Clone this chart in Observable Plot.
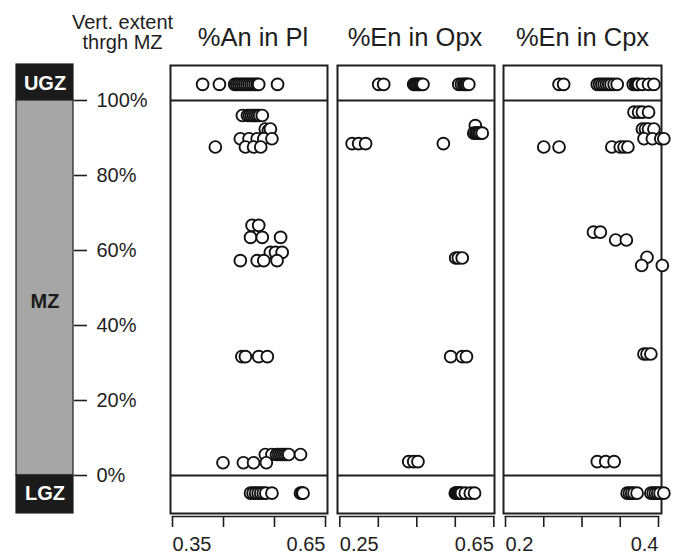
<!DOCTYPE html>
<html><head><meta charset="utf-8">
<script src="https://cdn.jsdelivr.net/npm/d3@7"></script>
<script src="https://cdn.jsdelivr.net/npm/@observablehq/plot@0.6"></script>
<style>
html,body{margin:0;padding:0;background:#fff;}
#chart{position:relative;width:676px;height:554px;overflow:hidden;}
#chart svg{position:absolute;left:0;top:0;}
</style></head><body><div id="chart"></div>
<script>
// ---------- data ----------
const header = "Vert. extent\nthrgh MZ";
const zones = ["UGZ", "MZ", "LGZ"];
const zoneBottom = [100, 0, -10.13];
const zoneTop = [109.6, 100, 0];
const zoneLabelY = [104.5, 46.5, -4.8];
const zoneFill = ["#1b1b1b", "#a6a6a6", "#1b1b1b"];
const zoneTextFill = ["#ffffff", "#1b1b1b", "#ffffff"];
const yTicks = [0, 20, 40, 60, 80, 100];
const yTickLabels = ["0%", "20%", "40%", "60%", "80%", "100%"];

const titles = ["%An in Pl", "%En in Opx", "%En in Cpx"];

// %An in Pl
const plX = [0.409,0.442,0.472,0.476,0.480,0.484,0.488,0.492,0.496,0.500,0.504,0.508,0.512,0.516,0.519,0.556,
  0.487,0.497,0.501,0.505,0.509,0.513,0.517,0.521,0.526,
  0.532,0.538,0.542,
  0.483,0.500,0.516,0.529,0.545,
  0.434,0.493,0.509,0.523,
  0.506,0.519,
  0.503,0.526,0.562,
  0.542,0.552,0.565,
  0.483,0.516,0.529,0.555,
  0.486,0.493,0.519,0.536,
  0.532,0.545,0.554,0.558,0.562,0.566,0.570,0.574,0.578,0.601,
  0.449,0.489,0.509,0.534,
  0.503,0.508,0.513,0.518,0.523,0.528,0.533,0.545,0.601,0.604,0.606];
const plY = [104.3,104.3,104.3,104.3,104.3,104.3,104.3,104.3,104.3,104.3,104.3,104.3,104.3,104.3,104.3,104.3,
  96.0,96.0,96.0,96.0,96.0,96.0,96.0,96.0,96.0,
  92.4,92.0,92.4,
  89.8,89.8,89.8,89.8,89.8,
  87.6,87.6,87.6,87.6,
  66.7,66.7,
  63.5,63.5,63.5,
  59.5,59.5,59.5,
  57.3,57.3,57.3,57.3,
  31.7,31.7,31.7,31.7,
  5.6,5.6,5.6,5.6,5.6,5.6,5.6,5.6,5.6,5.6,
  3.4,3.4,3.4,3.4,
  -4.7,-4.7,-4.7,-4.7,-4.7,-4.7,-4.7,-4.7,-4.7,-4.7,-4.7];
const plTicks = [0.35, 0.45, 0.55, 0.65];
const plTickLabels = ["0.35", "", "", "0.65"];

// %En in Opx
const opxX = [0.351,0.364,0.442,0.446,0.450,0.454,0.458,0.462,0.466,0.559,0.566,0.572,0.576,0.580,0.585,
  0.602,0.598,0.603,0.607,0.611,0.615,0.620,
  0.282,0.299,0.317,0.519,
  0.551,0.558,0.568,
  0.538,0.568,0.579,
  0.429,0.442,0.453,
  0.550,0.553,0.556,0.559,0.562,0.566,0.576,0.589,0.600];
const opxY = [104.3,104.3,104.3,104.3,104.3,104.3,104.3,104.3,104.3,104.3,104.3,104.3,104.3,104.3,104.3,
  93.3,91.3,91.3,91.3,91.3,91.3,91.3,
  88.5,88.5,88.5,88.5,
  58.0,58.0,58.0,
  31.7,31.7,31.7,
  3.7,3.7,3.7,
  -4.7,-4.7,-4.7,-4.7,-4.7,-4.7,-4.7,-4.7,-4.7];
const opxTicks = [0.25, 0.35, 0.45, 0.55, 0.65];
const opxTickLabels = ["0.25", "", "", "", "0.65"];

// %En in Cpx
const cpxX = [0.270,0.276,0.320,0.323,0.326,0.329,0.332,0.335,0.338,0.342,0.346,0.367,0.370,0.372,0.374,0.379,0.387,0.394,
  0.368,0.374,0.379,0.387,
  0.379,0.383,0.387,0.394,
  0.381,0.392,0.403,0.407,
  0.250,0.270,0.339,0.350,0.355,0.360,
  0.315,0.324,
  0.344,0.358,
  0.385,
  0.378,0.405,
  0.381,0.385,0.390,
  0.320,0.331,0.342,
  0.359,0.362,0.365,0.368,0.372,0.390,0.393,0.396,0.399,0.402,0.407];
const cpxY = [104.3,104.3,104.3,104.3,104.3,104.3,104.3,104.3,104.3,104.3,104.3,104.3,104.3,104.3,104.3,104.3,104.3,104.3,
  96.9,96.9,96.9,96.9,
  92.4,92.4,92.4,92.4,
  89.8,89.8,89.8,89.8,
  87.6,87.6,87.6,87.6,87.6,87.6,
  64.9,64.9,
  62.8,62.8,
  58.2,
  56.0,56.0,
  32.4,32.4,32.4,
  3.7,3.7,3.7,
  -4.7,-4.7,-4.7,-4.7,-4.7,-4.7,-4.7,-4.7,-4.7,-4.7,-4.7];
const cpxTicks = [0.2, 0.25, 0.3, 0.35, 0.4];
const cpxTickLabels = ["0.2", "", "", "", "0.4"];

// ---------- layout / style ----------
const W = 676, H = 554;
const FONT = "'Liberation Sans', Arial, Helvetica, sans-serif";
const INK = "#1e1e1e";
const common = {
  width: W, height: H, marginTop: 65, marginBottom: 41,
  style: {background: "transparent", fontFamily: FONT, color: INK, overflow: "visible"}
};
const yScale = {domain: [0, 100], range: [475, 100]};

const chart = document.getElementById("chart");

// strat column + y axis + header
const base = Plot.plot({
  ...common, marginTop: 64, marginLeft: 16, marginRight: W - 73,
  y: yScale,
  marks: [
    Plot.rect(zones, {y1: (d, i) => zoneBottom[i], y2: (d, i) => zoneTop[i],
      fill: (d, i) => zoneFill[i], stroke: INK, strokeWidth: 1.2}),
    Plot.text(zones, {y: (d, i) => zoneLabelY[i], text: d => d, frameAnchor: "middle",
      fill: (d, i) => zoneTextFill[i], fontWeight: "bold", fontSize: 20}),
    Plot.axisY(yTicks, {anchor: "right", tickSize: 13, tickPadding: 10, strokeWidth: 1.6,
      tickFormat: d => yTickLabels[yTicks.indexOf(d)], fontSize: 20, label: null}),
    Plot.text([header], {text: d => d, frameAnchor: "top-left", dx: 106, dy: -16,
      textAnchor: "middle", lineAnchor: "bottom", lineHeight: 1.0, fontSize: 20})
  ]
});
chart.appendChild(base);

function panel({xs, ys, domain, range, ticks, tickLabels, left, right, title, titleDx}) {
  const first = ticks[0], last = ticks[ticks.length - 1];
  return Plot.plot({
    ...common, marginLeft: left, marginRight: W - right,
    x: {domain, range}, y: {...yScale, axis: null},
    marks: [
      Plot.frame({stroke: INK, strokeWidth: 2}),
      Plot.ruleY([0, 100], {stroke: INK, strokeWidth: 2}),
      Plot.dot({length: xs.length}, {x: xs, y: ys, r: 5.9, fill: "white", stroke: "#111", strokeWidth: 1.9}),
      Plot.axisX(ticks, {tickSize: 11, tickFormat: () => "", dy: 3, strokeWidth: 1.6, label: null}),
      Plot.frame({anchor: "bottom", dy: 3, insetLeft: range[0] - left, insetRight: right - range[1],
        stroke: INK, strokeWidth: 1.6}),
      Plot.text([first], {x: d => d, text: d => tickLabels[0], frameAnchor: "bottom",
        textAnchor: "start", lineAnchor: "top", dy: 23, fontSize: 20}),
      Plot.text([last], {x: d => d, text: d => tickLabels[tickLabels.length - 1], frameAnchor: "bottom",
        textAnchor: "end", lineAnchor: "top", dy: 23, fontSize: 20}),
      Plot.text([title], {text: d => d, frameAnchor: "top", dx: titleDx, dy: -20,
        lineAnchor: "bottom", fontSize: 25.5})
    ]
  });
}

chart.appendChild(panel({xs: plX, ys: plY, domain: [0.35, 0.65], range: [172, 325],
  ticks: plTicks, tickLabels: plTickLabels, left: 170, right: 327, title: titles[0], titleDx: 4}));
chart.appendChild(panel({xs: opxX, ys: opxY, domain: [0.25, 0.65], range: [339.3, 493.3],
  ticks: opxTicks, tickLabels: opxTickLabels, left: 337, right: 494, title: titles[1], titleDx: -1}));
chart.appendChild(panel({xs: cpxX, ys: cpxY, domain: [0.2, 0.4], range: [505, 658],
  ticks: cpxTicks, tickLabels: cpxTickLabels, left: 503, right: 661, title: titles[2], titleDx: 0}));
</script></body></html>
